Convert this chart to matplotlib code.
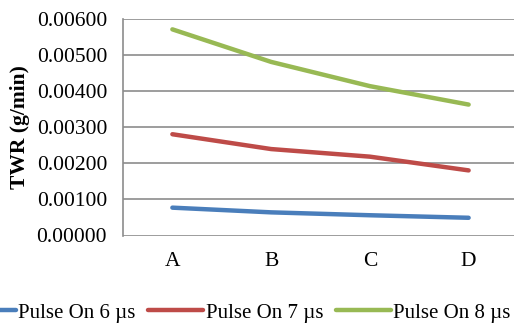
import matplotlib
matplotlib.use("Agg")
import matplotlib.pyplot as plt

categories = ["A", "B", "C", "D"]
pulse_6 = [0.00077, 0.00064, 0.00056, 0.00049]
pulse_7 = [0.00280, 0.00239, 0.00218, 0.00180]
pulse_8 = [0.00570, 0.00480, 0.00413, 0.00362]
series_labels = ["Pulse On 6 \u00b5s", "Pulse On 7 \u00b5s", "Pulse On 8 \u00b5s"]
yticks = [0.0, 0.001, 0.002, 0.003, 0.004, 0.005, 0.006]

colors = ["#4A7EBB", "#BE4B48", "#98B954"]

plt.rcParams["font.family"] = ["Liberation Serif", "DejaVu Serif"]
FS = 15.5

W, H = 514, 327
fig = plt.figure(figsize=(W / 100, H / 100), dpi=100)
left, right, top, bottom = 123, 518, 18.5, 235.5
ax = fig.add_axes([left / W, 1 - bottom / H, (right - left) / W, (bottom - top) / H])

x = range(len(categories))
for vals, c, lab in zip([pulse_6, pulse_7, pulse_8], colors, series_labels):
    ax.plot(x, vals, color=c, lw=3.2, solid_capstyle="round",
            solid_joinstyle="round", label=lab)

ax.set_xlim(-0.5, len(categories) - 0.5)
ax.set_ylim(0, 0.006)
ax.set_yticks(yticks)
ax.set_yticklabels([f"{v:.5f}" for v in yticks], fontsize=FS)
ax.set_xticks(list(x))
ax.set_xticklabels(categories, fontsize=FS)
ax.tick_params(axis="y", length=0, pad=11.5)
ax.tick_params(axis="x", length=0, pad=12)
ax.yaxis.grid(True, color="#8C8C8C", lw=1.2)
ax.set_axisbelow(True)
for s in ["top", "right", "bottom"]:
    ax.spines[s].set_visible(False)
ax.spines["left"].set_color("#8C8C8C")
ax.spines["left"].set_linewidth(1.2)

fig.text(20 / W, 1 - 127 / H, "TWR (g/min)", rotation=90, fontsize=FS,
         fontweight="bold", ha="center", va="center")

leg = fig.legend(loc="center", bbox_to_anchor=(235.5 / W, 1 - 313 / H), ncol=3,
                 frameon=False, fontsize=15, handlelength=2.65,
                 handletextpad=0.12, columnspacing=0.6, borderpad=0)

fig.savefig("out.png", dpi=100)
